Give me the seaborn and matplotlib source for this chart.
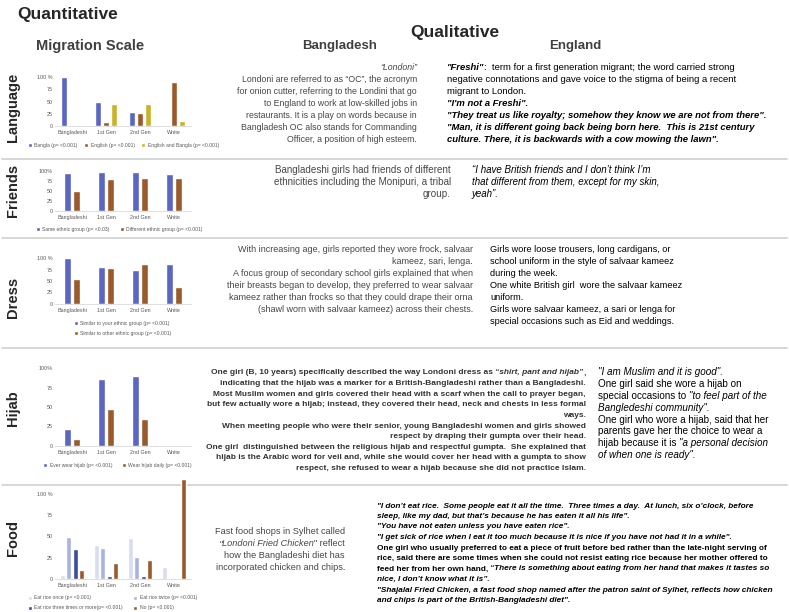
import matplotlib
matplotlib.use('Agg')
import matplotlib.pyplot as plt
import seaborn as sns
import pandas as pd

# ---- chart data ----
groups = ['Bangladeshi', '1st Gen', '2nd Gen', 'White']

lang_series = ['Bangla (p= <0.001)', 'English (p= <0.001)', 'English and Bangla (p= <0.001)']
bangla = [100, 48, 28, 0]
english = [0, 8, 26, 90]
english_bangla = [0, 45, 45, 10]

friends_series = ['Same ethnic group (p= <0.03)', 'Different ethnic group (p= <0.001)']
same_group = [95, 98, 97, 93]
different_group = [50, 80, 82, 82]

dress_series = ['Similar to your ethnic group (p= <0.001)', 'Similar to other ethnic group (p= <0.001)']
similar_yours = [100, 80, 73, 86]
similar_other = [55, 79, 88, 38]

hijab_series = ['Ever wear hijab (p= <0.001)', 'Wear hijab daily (p= <0.001)']
ever_hijab = [22, 86, 90, 0]
daily_hijab = [9, 47, 35, 0]

food_series = ['Eat rice once (p= <0.001)', 'Eat rice twice (p= <0.001)',
               'Eat rice three times or more(p= <0.001)', 'No (p= <0.001)']
rice_once = [5, 40, 48, 14]
rice_twice = [49, 36, 26, 0]
rice_three = [35, 4, 4, 0]
rice_no = [11, 19, 22, 118]

# ---- qualitative text (each line is a list of (text, style) runs) ----
lang_bd = [[('“Londoni”', 'i')],
           [('Londoni are referred to as “OC”, the acronym', 'n')],
           [('for onion cutter, referring to the Londini that go', 'n')],
           [('to England to work at low-skilled jobs in', 'n')],
           [('restaurants. It is a play on words because in', 'n')],
           [('Bangladesh OC also stands for Commanding', 'n')],
           [('Officer, a position of high esteem.', 'n')]]
lang_en = [[('"Freshi"', 'bi'), (':  term for a first generation migrant; the word carried strong', 'n')],
           [('negative connotations and gave voice to the stigma of being a recent', 'n')],
           [('migrant to London.', 'n')],
           [('"I\'m not a Freshi".', 'bi')],
           [('"They treat us like royalty; somehow they know we are not from there".', 'bi')],
           [('"Man, it is different going back being born here.  This is 21st century', 'bi')],
           [('culture. There, it is backwards with a cow mowing the lawn".', 'bi')]]

friends_bd = [[('Bangladeshi girls had friends of different', 'n')],
              [('ethnicities including the Monipuri, a tribal', 'n')],
              [('group.', 'n')]]
friends_en = [[('“I have British friends and I don’t think I’m', 'i')],
              [('that different from them, except for my skin,', 'i')],
              [('yeah”.', 'i')]]

dress_bd = [[('With increasing age, girls reported they wore frock, salvaar', 'n')],
            [('kameez, sari, lenga.', 'n')],
            [('A focus group of secondary school girls explained that when', 'n')],
            [('their breasts began to develop, they preferred to wear salvaar', 'n')],
            [('kameez rather than frocks so that they could drape their orna', 'n')],
            [('(shawl worn with salvaar kameez) across their chests.', 'n')]]
dress_en = [[('Girls wore loose trousers, long cardigans, or', 'n')],
            [('school uniform in the style of salvaar kameez', 'n')],
            [('during the week.', 'n')],
            [('One white British girl  wore the salvaar kameez', 'n')],
            [('uniform.', 'n')],
            [('Girls wore salvaar kameez, a sari or lenga for', 'n')],
            [('special occasions such as Eid and weddings.', 'n')]]

hijab_bd = [[('One girl (B, 10 years) specifically described the way Londoni dress as ', 'b'),
             ('“shirt, pant and hijab”', 'bi'), (',', 'b')],
            [('indicating that the hijab was a marker for a British-Bangladeshi rather than a Bangladeshi.', 'b')],
            [('Most Muslim women and girls covered their head with a scarf when the call to prayer began,', 'b')],
            [('but few actually wore a hijab; instead, they covered their head, neck and chests in less formal', 'b')],
            [('ways.', 'b')],
            [('When meeting people who were their senior, young Bangladeshi women and girls showed', 'b')],
            [('respect by draping their gumpta over their head.', 'b')],
            [('One girl  distinguished between the religious hijab and respectful gumpta.  She explained that', 'b')],
            [('hijab is the Arabic word for veil and, while she would cover her head with a gumpta to show', 'b')],
            [('respect, she refused to wear a hijab because she did not practice Islam.', 'b')]]
hijab_en = [[('"I am Muslim and it is good".', 'i')],
            [('One girl said she wore a hijab on', 'n')],
            [('special occasions to ', 'n'), ('"to feel part of the', 'i')],
            [('Bangledeshi community".', 'i')],
            [('One girl who wore a hijab, said that her', 'n')],
            [('parents gave her the choice to wear a', 'n')],
            [('hijab because it is ', 'n'), ('"a personal decision', 'i')],
            [('of when one is ready".', 'i')]]

food_bd = [[('Fast food shops in Sylhet called', 'n')],
           [('"', 'n'), ('Londoni Fried Chicken', 'i'), ('" reflect', 'n')],
           [('how the Bangladeshi diet has', 'n')],
           [('incorporated chicken and chips.', 'n')]]
food_en = [[('"I don’t eat rice.  Some people eat it all the time.  Three times a day.  At lunch, six o’clock, before', 'bi')],
           [('sleep, like my dad, but that’s because he has eaten it all his life".', 'bi')],
           [('"You have not eaten unless you have eaten rice".', 'bi')],
           [('"I get sick of rice when I eat it too much because it is nice if you have not had it in a while".', 'bi')],
           [('One girl who usually preferred to eat a piece of fruit before bed rather than the late-night serving of', 'b')],
           [('rice, said there are some times when she could not resist eating rice because her mother offered to', 'b')],
           [('feed her from her own hand, ', 'b'), ('“There is something about eating from her hand that makes it tastes so', 'bi')],
           [('nice, I don’t know what it is”.', 'bi')],
           [('"Shajalal Fried Chicken, a fast food shop named after the patron saint of Sylhet, reflects how chicken', 'bi')],
           [('and chips is part of the British-Bangladeshi diet".', 'bi')]]

BLUE = '#5b66c2'
BROWN = '#9a5a2b'
OLIVE = '#c8b42a'

sns.set_style('white')
plt.rcParams['font.family'] = ['Liberation Sans', 'DejaVu Sans']

W, H = 789, 612
fig = plt.figure(figsize=(W / 100, H / 100), dpi=100)
bg = fig.add_axes([0, 0, 1, 1])
bg.set_xlim(0, W)
bg.set_ylim(H, 0)
bg.axis('off')
renderer = fig.canvas.get_renderer()


def style_kw(st, size, color):
    return dict(fontsize=size, color=color, va='center', ha='left',
                fontstyle='italic' if 'i' in st else 'normal',
                fontweight='bold' if 'b' in st else 'normal')


def advance(txt, kw):
    # width of txt including spaces, measured between two bar glyphs
    m = bg.text(0, 0, '||', **kw)
    base = m.get_window_extent(renderer).width
    m.set_text('|' + txt + '|')
    w = m.get_window_extent(renderer).width - base
    m.remove()
    return w


def draw_line(x, y, runs, ha='left', size=6.5, color='black'):
    pieces = []
    for txt, st in runs:
        kw = style_kw(st, size, color)
        t = bg.text(0, y, txt, **kw)
        pieces.append((t, advance(txt, kw)))
    total = sum(w for _, w in pieces)
    cur = x - total if ha == 'right' else x
    for t, w in pieces:
        t.set_x(cur)
        cur += w


def draw_block(x, y0, step, lines, ha='left', size=6.5, color='black'):
    for i, runs in enumerate(lines):
        draw_line(x, y0 + i * step, runs, ha=ha, size=size, color=color)


def long_df(series, values):
    rows = []
    for name, vals in zip(series, values):
        for g, v in zip(groups, vals):
            rows.append({'group': g, 'value': v, 'series': name})
    return pd.DataFrame(rows)


def bar_chart(y_top, y_zero, ymax, series, values, palette, width, top_label,
              leg_xy, ncol, order=None, colspace=1.5):
    x0, x1 = 55, 191
    ax = fig.add_axes([x0 / W, 1 - y_zero / H, (x1 - x0) / W, (y_zero - y_top) / H])
    df = long_df(series, values)
    sns.barplot(data=df, x='group', y='value', hue='series', palette=palette,
                width=width, gap=0.2, saturation=1, ax=ax)
    ax.set_xlim(-0.5, 3.5)
    ax.set_ylim(0, ymax)
    ax.set_yticks([0, 25, 50, 75, 100])
    ax.set_yticklabels(['0', '25', '50', '75', top_label])
    ax.tick_params(axis='both', length=0, labelsize=3.9, colors='#595959')
    ax.tick_params(axis='x', pad=3)
    ax.tick_params(axis='y', pad=1.5)
    ax.set_xlabel('')
    ax.set_ylabel('')
    for s in ['left', 'top', 'right']:
        ax.spines[s].set_visible(False)
    ax.spines['bottom'].set_color('#d9d9d9')
    ax.spines['bottom'].set_linewidth(0.6)
    ax.patch.set_alpha(0)
    handles, labels = ax.get_legend_handles_labels()
    ax.get_legend().remove()
    if order is not None:
        handles = [handles[i] for i in order]
        labels = [labels[i] for i in order]
    fig.legend(handles, labels, loc='center left',
               bbox_to_anchor=(leg_xy[0] / W, 1 - leg_xy[1] / H), ncol=ncol,
               fontsize=3.6, frameon=False, handlelength=0.8, handleheight=0.8,
               handletextpad=0.5, columnspacing=colspace, borderpad=0,
               borderaxespad=0, labelspacing=1.0, labelcolor='#595959')
    return ax


# ---- headers ----
bg.text(68, 14, 'Quantitative', fontsize=12.5, fontweight='bold', ha='center', va='center')
bg.text(455, 33, 'Qualitative', fontsize=12.5, fontweight='bold', ha='center', va='center')
bg.text(90, 46, 'Migration Scale', fontsize=10.5, fontweight='bold', color='#404040', ha='center', va='center')
for x, s in [(340, 'Bangladesh'), (575, 'England')]:
    bg.text(x, 46, s, fontsize=9.5, fontweight='bold', color='#404040', ha='center', va='center')

# ---- row labels ----
for y, s in [(107, 'Language'), (190, 'Friends'), (297, 'Dress'), (408, 'Hijab'), (538, 'Food')]:
    bg.text(13, y, s, fontsize=10.5, fontweight='bold', rotation=90, ha='center', va='center')

# ---- separators ----
for y in [159, 238, 348, 485]:
    bg.plot([2, 787], [y, y], color='#cfcfcf', lw=1.2)

# ---- charts ----
bar_chart(77, 126, 100, lang_series, [bangla, english, english_bangla],
          [BLUE, BROWN, OLIVE], 0.68, '100 %', (28, 145), 3, colspace=1.3)
bar_chart(171, 211, 100, friends_series, [same_group, different_group],
          [BLUE, BROWN], 0.55, '100%', (36, 229), 2, colspace=2.0)
bar_chart(258, 304, 100, dress_series, [similar_yours, similar_other],
          [BLUE, BROWN], 0.55, '100 %', (74, 328), 1)
bar_chart(368, 446, 100, hijab_series, [ever_hijab, daily_hijab],
          [BLUE, BROWN], 0.55, '100%', (43, 465), 2, colspace=2.0)
bar_chart(477, 579, 120, food_series, [rice_once, rice_twice, rice_three, rice_no],
          ['#d9ddf2', '#aab3e0', '#3d4a9e', BROWN], 0.72, '100 %', (28, 603), 2,
          order=[0, 2, 1, 3], colspace=2.0)

# ---- qualitative text ----
GRAY = '#474747'
draw_block(417, 68, 12, lang_bd, ha='right', size=6.3, color=GRAY)
draw_block(447, 68, 12, lang_en, size=6.8)
draw_block(451, 170, 12, friends_bd, ha='right', size=7.1, color=GRAY)
draw_block(472, 170, 12, friends_en, size=7.0)
draw_block(473, 249, 12, dress_bd, ha='right', size=6.5, color=GRAY)
draw_block(490, 249, 12, dress_en, size=6.6)
draw_block(586, 373, 10.6, hijab_bd, ha='right', size=6.0, color='#333333')
draw_block(598, 372, 11.9, hijab_en, size=7.1)
draw_block(345, 532, 12, food_bd, ha='right', size=6.6, color=GRAY)
draw_block(377, 506, 10.5, food_en, size=5.95)

fig.savefig('out.png', dpi=100)
